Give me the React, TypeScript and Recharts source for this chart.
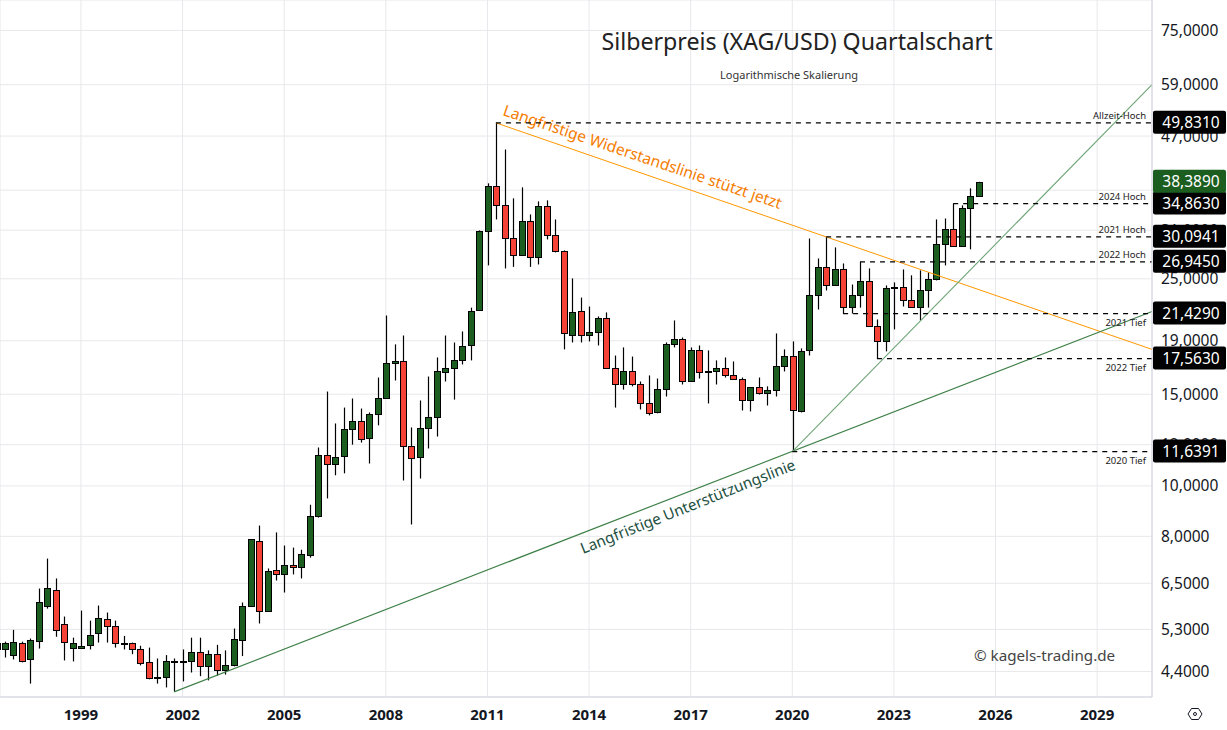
import {
  Bar,
  CartesianGrid,
  ComposedChart,
  ReferenceLine,
  XAxis,
  YAxis,
} from "recharts";

// quarterly candles, first one is Q3 1996
const firstQuarter = 1996.5;
const opens = [
  4.85, 4.87, 4.73, 5.0, 4.64, 5.04, 5.89, 6.32, 5.44, 4.89,
  4.89, 4.95, 5.22, 5.56, 5.37, 5.0, 4.98, 4.85, 4.58, 4.27,
  4.29, 4.6, 4.58, 4.6, 4.79, 4.5, 4.75, 4.42, 4.52, 5.06,
  5.89, 7.85, 5.76, 6.88, 6.76, 7.06, 6.97, 7.35, 8.77, 11.44,
  11.04, 11.39, 12.84, 13.3, 12.38, 13.72, 14.72, 17.19, 17.34, 11.94,
  11.34, 12.89, 13.54, 16.52, 16.81, 17.42, 18.61, 21.73, 30.82, 37.63,
  34.59, 29.88, 27.81, 32.22, 27.47, 34.42, 30.3, 28.21, 19.45, 21.63,
  19.45, 19.71, 20.98, 16.88, 15.66, 16.59, 15.66, 14.46, 13.84, 15.38,
  18.7, 19.11, 15.87, 18.21, 16.59, 16.59, 16.88, 16.3, 16.08, 14.59,
  15.46, 15.05, 15.25, 16.96, 17.8, 13.9, 18.21, 23.22, 26.35, 24.37,
  26.05, 22.11, 23.22, 24.71, 20.25, 18.95, 23.96, 24.07, 22.71, 22.11,
  23.74, 24.93, 29.11, 31.1, 28.84, 34.13, 36.07,
];
const highs = [
  5.02, 5.02, 5.29, 5.02, 5.09, 6.35, 7.25, 6.64, 5.61, 5.11,
  5.76, 5.51, 5.89, 5.71, 5.51, 5.15, 5.0, 4.93, 4.89, 4.66,
  4.73, 4.66, 4.85, 5.11, 5.11, 4.83, 4.95, 4.83, 5.32, 5.97,
  7.89, 8.39, 6.94, 8.14, 7.68, 7.61, 7.54, 9.2, 11.85, 15.18,
  13.18, 14.14, 14.72, 14.08, 13.84, 16.15, 21.25, 18.7, 19.45, 12.95,
  14.59, 16.22, 17.65, 19.45, 18.86, 19.8, 22.0, 30.96, 38.13, 49.83,
  44.29, 35.68, 37.46, 33.23, 35.2, 35.36, 32.5, 28.34, 25.04, 23.0,
  22.11, 21.16, 21.54, 17.8, 18.45, 17.72, 15.87, 16.3, 16.08, 18.86,
  20.79, 19.28, 18.45, 18.61, 18.21, 17.42, 17.65, 17.34, 16.15, 15.46,
  16.15, 15.53, 19.63, 18.29, 18.95, 18.37, 29.88, 27.35, 30.09, 28.72,
  26.75, 24.37, 26.95, 26.17, 20.88, 24.27, 24.6, 26.05, 25.38, 25.94,
  25.71, 32.5, 32.64, 34.86, 34.59, 37.29, 38.39,
];
const lows = [
  4.73, 4.68, 4.64, 4.58, 4.17, 4.87, 5.81, 5.13, 4.62, 4.6,
  4.87, 4.85, 5.0, 5.0, 4.89, 4.85, 4.75, 4.52, 4.25, 4.17,
  4.1, 4.02, 4.21, 4.38, 4.31, 4.23, 4.32, 4.34, 4.5, 4.71,
  5.89, 5.44, 5.76, 6.58, 6.24, 6.76, 6.64, 7.28, 8.69, 9.46,
  10.48, 10.57, 12.0, 12.11, 11.04, 13.07, 14.72, 15.94, 10.24, 8.43,
  10.33, 11.8, 12.44, 15.87, 14.65, 17.11, 17.42, 21.73, 26.52, 32.5,
  26.17, 26.35, 27.81, 26.35, 26.63, 29.75, 28.09, 18.29, 18.86, 18.86,
  18.95, 18.61, 16.88, 14.14, 15.31, 15.53, 14.02, 13.66, 13.78, 14.85,
  18.45, 15.66, 15.87, 16.08, 14.4, 15.66, 16.15, 16.08, 13.96, 13.9,
  14.98, 14.27, 14.85, 16.59, 11.64, 13.84, 17.8, 21.82, 23.74, 24.27,
  21.43, 21.43, 22.0, 20.25, 17.56, 18.13, 19.98, 22.11, 22.11, 20.79,
  22.0, 24.82, 26.52, 28.84, 28.84, 28.47, 35.9,
];
const closes = [
  5.0, 5.0, 5.02, 4.6, 5.06, 5.97, 6.37, 5.29, 5.02, 5.0,
  4.93, 5.18, 5.58, 5.37, 4.98, 4.98, 4.85, 4.56, 4.27, 4.29,
  4.6, 4.58, 4.6, 4.79, 4.5, 4.75, 4.42, 4.52, 5.09, 5.89,
  7.89, 5.76, 6.85, 6.76, 7.06, 6.97, 7.41, 8.77, 11.44, 11.04,
  11.34, 12.84, 13.3, 12.33, 13.72, 14.72, 17.19, 17.34, 11.94, 11.29,
  12.89, 13.54, 16.59, 16.81, 17.42, 18.53, 21.63, 30.82, 37.63, 34.59,
  29.88, 27.81, 32.22, 27.47, 34.42, 30.3, 28.21, 19.63, 21.54, 19.45,
  19.71, 20.98, 16.88, 15.66, 16.59, 15.66, 14.46, 13.78, 15.38, 18.7,
  19.11, 15.87, 18.21, 16.52, 16.52, 16.88, 16.3, 16.08, 14.59, 15.46,
  15.05, 15.25, 16.96, 17.8, 13.96, 18.13, 23.22, 26.35, 24.37, 26.05,
  22.11, 23.22, 24.71, 20.25, 18.95, 23.96, 24.07, 22.71, 22.11, 23.74,
  24.93, 29.11, 31.1, 28.84, 34.13, 36.07, 38.39,
];

const yearTicks = [1999, 2002, 2005, 2008, 2011, 2014, 2017, 2020, 2023, 2026, 2029];
const priceTicks = [75, 59, 47, 37, 31, 25, 19, 15, 12, 10, 8, 6.5, 5.3, 4.4];

// horizontal levels: price, where the dashed line starts, small caption
const levelPrices = [49.831, 34.863, 30.0941, 26.945, 21.429, 17.563, 11.6391];
const levelStarts = [2011.25, 2024.75, 2021, 2022, 2021.5, 2022.5, 2020];
const levelNames = ["Allzeit-Hoch", "2024 Hoch", "2021 Hoch", "2022 Hoch", "2021 Tief", "2022 Tief", "2020 Tief"];
const lastPrice = 38.389;

const xMin = 1996.61;
const xMax = 2030.62;
const yMin = 3.93;
const yMax = 85.8;

const chartData = opens.map((open, i) => ({
  t: firstQuarter + i * 0.25,
  open,
  close: closes[i],
  high: highs[i],
  low: lows[i],
  range: [lows[i], highs[i]],
}));

const UP = "#1b5e20";
const DOWN = "#f44336";
const FONT = '"Noto Sans", sans-serif';

const de = (v: number) => v.toFixed(4).replace(".", ",");
// 37 sits completely behind the price tags in the original
const axisLabel = (v: number) => (v === 37 ? "" : de(v));

function Candle(props: any) {
  const { x, y, width, height, payload } = props;
  const { open, close, high, low } = payload;
  const cx = Math.round(x + width / 2);
  // the bar spans low..high on a log axis, so body edges are log fractions of it
  const span = Math.log(high / low) || 1;
  const yOf = (v: number) => y + (height * Math.log(high / v)) / span;
  const top = Math.round(yOf(Math.max(open, close)));
  const bottom = Math.round(yOf(Math.min(open, close)));
  return (
    <g>
      <line x1={cx + 0.5} x2={cx + 0.5} y1={y} y2={y + height} stroke="#000" strokeWidth={1.2} />
      <rect
        x={cx - 2.5}
        y={top + 0.5}
        width={6}
        height={Math.max(bottom - top, 1)}
        fill={close >= open ? UP : DOWN}
        stroke="#000"
        strokeWidth={1}
      />
    </g>
  );
}

function PriceTag({ y, payload }: any) {
  const price = payload.value;
  return (
    <g>
      <rect x={1153} y={y - 12} width={73} height={23} rx={2} fill={price === lastPrice ? UP : "#000"} />
      <text x={1191} y={y + 5} textAnchor="middle" fontFamily={FONT} fontSize={15.5} fill="#fff">
        {de(price)}
      </text>
    </g>
  );
}

function LevelCaption({ viewBox, name }: any) {
  const below = name.includes("Tief");
  return (
    <text
      x={1146}
      y={viewBox.y + (below ? 12 : -4)}
      textAnchor="end"
      fontFamily={FONT}
      fontSize={9.5}
      fill="#222"
    >
      {name}
    </text>
  );
}

export default function App() {
  return (
    <div style={{ position: "absolute", left: 0, top: 0, width: 1227, height: 730, overflow: "hidden", background: "#fff" }}>
      <ComposedChart width={1227} height={730} data={chartData} margin={{ top: 0, right: 0, bottom: 0, left: 0 }}>
        <CartesianGrid stroke="#e8e8ec" />
        <XAxis
          dataKey="t"
          type="number"
          domain={[xMin, xMax]}
          allowDataOverflow
          ticks={yearTicks}
          height={33}
          tickLine={false}
          tickMargin={6}
          stroke="#d1d4dc"
          tick={{ fontFamily: FONT, fontSize: 15, fontWeight: 700, fill: "#131722" }}
        />
        <YAxis
          orientation="right"
          scale="log"
          domain={[yMin, yMax]}
          allowDataOverflow
          ticks={priceTicks}
          interval={0}
          width={75}
          tickLine={false}
          tickMargin={3}
          stroke="#d1d4dc"
          tickFormatter={axisLabel}
          tick={{ fontFamily: FONT, fontSize: 15.5, fill: "#131722" }}
        />
        {/* second axis only carries the price tags, so they cover the normal labels */}
        <YAxis
          yAxisId="tags"
          orientation="right"
          mirror
          scale="log"
          domain={[yMin, yMax]}
          allowDataOverflow
          ticks={[...levelPrices, lastPrice]}
          interval={0}
          axisLine={false}
          tickLine={false}
          tick={PriceTag}
        />
        <Bar dataKey="range" barSize={7} shape={Candle} isAnimationActive={false} />

        <ReferenceLine
          segment={[{ x: 2011.25, y: 49.83 }, { x: xMax, y: 18.29 }]}
          stroke="#ff9800"
          strokeWidth={1}
        />
        <ReferenceLine
          segment={[{ x: 2001.75, y: 4.02 }, { x: xMax, y: 21.63 }]}
          stroke="#3f8048"
          strokeWidth={1.2}
        />
        <ReferenceLine
          segment={[{ x: 2020, y: 11.64 }, { x: xMax, y: 59 }]}
          stroke="#6fa577"
          strokeWidth={1.1}
        />

        {levelPrices.map((price, i) => (
          <ReferenceLine
            key={price}
            segment={[{ x: levelStarts[i], y: price }, { x: xMax, y: price }]}
            stroke="#000"
            strokeWidth={1.2}
            strokeDasharray="5 5"
            label={<LevelCaption name={levelNames[i]} />}
          />
        ))}

        <text x={797} y={50} textAnchor="middle" fontFamily={FONT} fontSize={23.2} fill="#222">
          Silberpreis (XAG/USD) Quartalschart
        </text>
        <text x={789} y={79} textAnchor="middle" fontFamily={FONT} fontSize={11} fill="#333">
          Logarithmische Skalierung
        </text>
        <text x={502} y={115} transform="rotate(18.7 502 115)" fontFamily={FONT} fontSize={15.5} fill="#f57c00">
          Langfristige Widerstandslinie stützt jetzt
        </text>
        <text x={583} y={554} transform="rotate(-21.7 583 554)" fontFamily={FONT} fontSize={15.2} fill="#1d4f3f">
          Langfristige Unterstützungslinie
        </text>
        <text x={974} y={661} fontFamily={FONT} fontSize={15.2} fill="#444">
          © kagels-trading.de
        </text>
        <g fill="none" stroke="#131722" strokeWidth={1}>
          <polygon points="1188,714 1191.5,708.5 1198.5,708.5 1202,714 1198.5,719.5 1191.5,719.5" />
          <circle cx={1195} cy={714} r={1.5} />
        </g>
      </ComposedChart>
    </div>
  );
}
